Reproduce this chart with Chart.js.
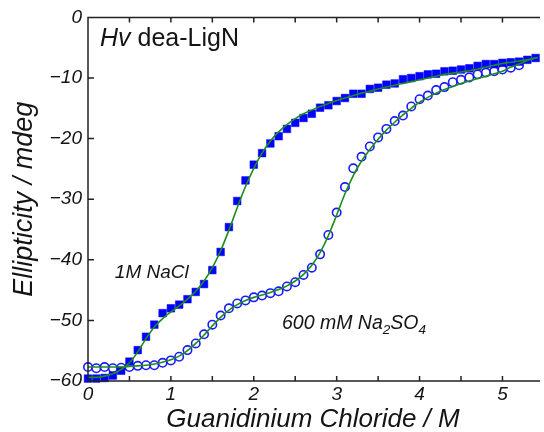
<!DOCTYPE html>
<html>
<head>
<meta charset="utf-8">
<script src="https://cdn.jsdelivr.net/npm/chart.js@4.4.1/dist/chart.umd.min.js"></script>
<style>
  html, body { margin: 0; padding: 0; background: #fff; }
  #wrap { width: 544px; height: 432px; position: relative; }
</style>
</head>
<body>
<div id="wrap"><canvas id="chart"></canvas></div>
<script>
// Guanidinium chloride concentration (M) for the measured points
const GDM = [0.0, 0.1, 0.2, 0.3, 0.4, 0.5, 0.6, 0.7, 0.8, 0.9,
             1.0, 1.1, 1.2, 1.3, 1.4, 1.5, 1.6, 1.7, 1.8, 1.9,
             2.0, 2.1, 2.2, 2.3, 2.4, 2.5, 2.6, 2.7, 2.8, 2.9,
             3.0, 3.1, 3.2, 3.3, 3.4, 3.5, 3.6, 3.7, 3.8, 3.9,
             4.0, 4.1, 4.2, 4.3, 4.4, 4.5, 4.6, 4.7, 4.8, 4.9,
             5.0, 5.1, 5.2, 5.3, 5.4];

// 1M NaCl (filled squares), mdeg
const NACL = [-59.6, -59.6, -59.5, -59.1, -58.3, -56.8, -54.9, -52.7, -50.7, -48.8,
              -48.0, -47.4, -46.5, -45.3, -44.0, -41.7, -38.7, -34.6, -30.3, -26.9,
              -24.3, -22.4, -20.8, -19.6, -18.4, -17.4, -16.6, -15.9, -14.9, -14.5,
              -13.8, -13.3, -12.6, -12.6, -11.8, -11.6, -11.1, -10.9, -10.2, -10.0,
              -9.7, -9.4, -9.3, -8.9, -8.8, -8.6, -8.4, -8.0, -7.7, -7.7,
              -7.5, -7.4, -7.3, -7.0, -6.7];

// 600 mM Na2SO4 (open circles), mdeg — measured up to 5.2 M
const NA2SO4 = [-57.7, -57.9, -57.7, -57.9, -57.8, -57.7, -57.5, -57.4, -57.4, -57.0,
                -56.6, -56.0, -54.9, -53.8, -52.3, -50.7, -49.2, -48.0, -47.2, -46.7,
                -46.2, -45.9, -45.5, -45.2, -44.4, -43.7, -42.5, -41.3, -39.1, -35.9,
                -32.2, -28.0, -24.9, -23.0, -21.3, -19.8, -18.4, -17.1, -16.2, -14.7,
                -13.5, -12.9, -12.0, -11.5, -10.7, -10.3, -9.9, -9.4, -9.1, -8.9,
                -8.6, -8.3, -7.9];

// fitted curves (green)
const FIT_X = [0.0, 0.1, 0.2, 0.3, 0.4, 0.5, 0.6, 0.7, 0.8, 0.9,
               1.0, 1.1, 1.2, 1.3, 1.4, 1.5, 1.6, 1.7, 1.8, 1.9,
               2.0, 2.1, 2.2, 2.3, 2.4, 2.5, 2.6, 2.7, 2.8, 2.9,
               3.0, 3.1, 3.2, 3.3, 3.4, 3.5, 3.6, 3.7, 3.8, 3.9,
               4.0, 4.1, 4.2, 4.3, 4.4, 4.5, 4.6, 4.7, 4.8, 4.9,
               5.0, 5.1, 5.2, 5.3, 5.4, 5.5];
const FIT_NACL = [-59.4, -59.4, -59.2, -58.8, -58.1, -57.0, -55.2, -53.0, -51.1, -49.7,
                  -48.6, -47.6, -46.5, -45.2, -43.5, -41.3, -38.5, -35.1, -31.4, -27.9,
                  -24.9, -22.4, -20.4, -18.9, -17.7, -16.7, -15.9, -15.3, -14.7, -14.2,
                  -13.7, -13.3, -12.9, -12.5, -12.2, -11.8, -11.5, -11.2, -10.9, -10.6,
                  -10.3, -10.0, -9.7, -9.4, -9.2, -9.0, -8.8, -8.5, -8.2, -7.9,
                  -7.6, -7.4, -7.2, -7.0, -6.7, -6.4];
const FIT_NA2SO4 = [-57.7, -57.7, -57.7, -57.7, -57.7, -57.6, -57.5, -57.4, -57.2, -56.9,
                    -56.5, -55.9, -55.0, -53.8, -52.4, -50.9, -49.5, -48.3, -47.4, -46.7,
                    -46.2, -45.8, -45.4, -44.9, -44.3, -43.5, -42.4, -40.9, -38.8, -36.0,
                    -32.6, -29.1, -26.1, -23.7, -21.8, -20.1, -18.6, -17.3, -16.1, -15.0,
                    -14.0, -13.2, -12.5, -11.9, -11.4, -10.9, -10.5, -10.1, -9.7, -9.3,
                    -8.9, -8.2, -7.7, -7.1, -6.7, -6.4];

const X_MINOR = [0.5, 1, 1.5, 2, 2.5, 3, 3.5, 4, 4.5, 5];
const Y_MARKS = [-50, -40, -30, -20, -10];

const FONT = "'Liberation Sans', Arial, sans-serif";
const INK = "#141414";
const BLUE = "#0000ff";
const GREEN = "#1c8c1c";

function pts(xs, ys) {
  return ys.map((v, i) => ({ x: xs[i], y: v }));
}

const frame = {
  id: "frame",
  afterDatasetsDraw(chart) {
    const { ctx, chartArea: a, scales: { x, y } } = chart;
    ctx.save();
    ctx.strokeStyle = "#222";
    ctx.lineWidth = 1.5;
    ctx.beginPath();
    ctx.moveTo(a.right + 2, a.top);
    ctx.lineTo(a.left, a.top);
    ctx.lineTo(a.left, a.bottom);
    ctx.lineTo(a.right + 2, a.bottom);
    X_MINOR.forEach(v => {
      const px = x.getPixelForValue(v);
      ctx.moveTo(px, a.top); ctx.lineTo(px, a.top + 5);
      ctx.moveTo(px, a.bottom); ctx.lineTo(px, a.bottom - 5);
    });
    Y_MARKS.forEach(v => {
      const py = y.getPixelForValue(v);
      ctx.moveTo(a.left, py); ctx.lineTo(a.left + 6, py);
    });
    ctx.stroke();
    ctx.restore();
  },
  afterDraw(chart) {
    const { ctx, chartArea: a, scales: { x, y } } = chart;
    ctx.save();
    ctx.fillStyle = INK;
    ctx.textBaseline = "alphabetic";

    // panel title: "Hv" italic, rest upright
    let tx = a.left + 12, ty = a.top + 29;
    ctx.font = `italic 25px ${FONT}`;
    ctx.fillText("Hv", tx, ty);
    tx += ctx.measureText("Hv").width;
    ctx.font = `25px ${FONT}`;
    ctx.fillText(" dea-LigN", tx, ty);

    // curve labels
    ctx.font = `italic 19px ${FONT}`;
    ctx.textAlign = "center";
    ctx.fillText("1M NaCl", x.getPixelForValue(0.77), y.getPixelForValue(-43.0));

    ctx.textAlign = "left";
    let sx = x.getPixelForValue(2.34), sy = y.getPixelForValue(-51.4);
    const parts = [["600 mM Na", 19.5, 0], ["2", 13.5, 5], ["SO", 19.5, 0], ["4", 13.5, 5]];
    parts.forEach(([s, size, dy]) => {
      ctx.font = `italic ${size}px ${FONT}`;
      ctx.fillText(s, sx, sy + dy);
      sx += ctx.measureText(s).width;
    });
    ctx.restore();
  }
};

new Chart(document.getElementById("chart"), {
  type: "scatter",
  data: {
    datasets: [
      {
        label: "fit NaCl",
        data: pts(FIT_X, FIT_NACL),
        showLine: true,
        borderColor: GREEN,
        borderWidth: 1.6,
        pointRadius: 0,
        cubicInterpolationMode: "monotone",
        order: 0
      },
      {
        label: "fit Na2SO4",
        data: pts(FIT_X, FIT_NA2SO4),
        showLine: true,
        borderColor: GREEN,
        borderWidth: 1.6,
        pointRadius: 0,
        cubicInterpolationMode: "monotone",
        order: 0
      },
      {
        label: "1M NaCl",
        data: pts(GDM, NACL),
        pointStyle: "rect",
        pointRadius: 5.4,
        backgroundColor: BLUE,
        borderColor: BLUE,
        borderWidth: 0.5,
        clip: false,
        order: 1
      },
      {
        label: "600 mM Na2SO4",
        data: pts(GDM, NA2SO4),
        pointStyle: "circle",
        pointRadius: 4.2,
        backgroundColor: "rgba(0,0,0,0)",
        borderColor: "#1a1aff",
        borderWidth: 1.6,
        clip: false,
        order: 1
      }
    ]
  },
  options: {
    responsive: true,
    maintainAspectRatio: false,
    animation: false,
    events: [],
    layout: { padding: { top: 17, right: 0, bottom: 0, left: 0 } },
    plugins: { legend: { display: false }, tooltip: { enabled: false } },
    scales: {
      x: {
        type: "linear",
        min: 0,
        max: 5.43,
        grid: { display: false, drawTicks: false },
        border: { display: false },
        afterFit: s => { s.height = 51; },
        ticks: {
          stepSize: 1,
          includeBounds: false,
          padding: 2,
          color: INK,
          font: { family: FONT, size: 19, style: "italic" },
          callback: v => Number.isInteger(v) ? String(v) : ""
        },
        title: {
          display: true,
          text: "Guanidinium Chloride / M",
          color: INK,
          font: { family: FONT, size: 26, style: "italic", lineHeight: 1 },
          padding: { top: 0, bottom: -1 }
        }
      },
      y: {
        min: -60,
        max: 0,
        grid: { display: false, drawTicks: false },
        border: { display: false },
        afterFit: s => { s.width = 88; },
        ticks: {
          stepSize: 10,
          padding: 6,
          color: INK,
          font: { family: FONT, size: 19, style: "italic" },
          callback: v => v === 0 ? "0" : "\u2212" + Math.abs(v)
        },
        title: {
          display: true,
          text: "Ellipticity / mdeg",
          color: INK,
          font: { family: FONT, size: 27, style: "italic" },
          padding: { top: 8, bottom: 0 }
        }
      }
    }
  },
  plugins: [frame]
});
</script>
</body>
</html>
